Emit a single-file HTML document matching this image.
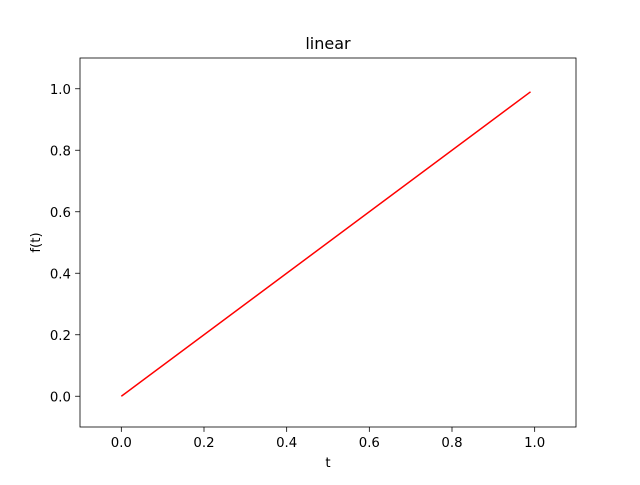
<!DOCTYPE html>
<html><head><meta charset="utf-8"><style>
body{margin:0;background:#fff;}
svg text{font-family:"DejaVu Sans","Liberation Sans",sans-serif;fill:#000;}
</style></head><body>
<svg id="chart" width="640" height="480" viewBox="0 0 640 480">
<rect width="640" height="480" fill="#fff"/>
<g id="plot"></g>
</svg>
<script>
const tValues = [0, 0.99];
const fValues = [0, 0.99];
const xTicks = [0.0, 0.2, 0.4, 0.6, 0.8, 1.0];
const yTicks = [0.0, 0.2, 0.4, 0.6, 0.8, 1.0];
const xTickLabels = ["0.0","0.2","0.4","0.6","0.8","1.0"];
const yTickLabels = ["0.0","0.2","0.4","0.6","0.8","1.0"];

const L=80,R=576,T=58,B=427,xmin=-0.1,xmax=1.1,ymin=-0.1,ymax=1.1;
const sx=v=>L+(v-xmin)/(xmax-xmin)*(R-L);
const sy=v=>B-(v-ymin)/(ymax-ymin)*(B-T);
const g=document.getElementById('plot');
const NS='http://www.w3.org/2000/svg';
function mk(tag,attrs,parent){const e=document.createElementNS(NS,tag);for(const k in attrs)e.setAttribute(k,attrs[k]);(parent||g).appendChild(e);return e;}

const pts=tValues.map((t,i)=>sx(t)+','+sy(fValues[i])).join(' ');
const line=mk('polyline',{points:pts,fill:'none',stroke:'#ff0000','stroke-width':1.5});



const frame=mk('rect',{x:L,y:T,width:R-L,height:B-T,fill:'none',stroke:'#000','stroke-width':0.8});



xTicks.forEach((v,i)=>{
  const x=sx(v);
  const tk=mk('line',{x1:x,x2:x,y1:B,y2:B+4.9,stroke:'#000','stroke-width':0.8});
  
  
  const tx=mk('text',{x:x,y:B+20,'text-anchor':'middle','font-size':'13.3px'});
  tx.textContent=xTickLabels[i];
  
  
});
yTicks.forEach((v,i)=>{
  const y=sy(v);
  const tk=mk('line',{x1:L-4.9,x2:L,y1:y,y2:y,stroke:'#000','stroke-width':0.8});
  
  
  const tx=mk('text',{x:L-9,y:y+5,'text-anchor':'end','font-size':'13.3px'});
  tx.textContent=yTickLabels[i];
  
  
});
const title=mk('text',{x:(L+R)/2,y:T-9,'text-anchor':'middle','font-size':'16px'});
title.textContent='linear';


const xl=mk('text',{x:(L+R)/2,y:467,'text-anchor':'middle','font-size':'13.3px'});
xl.textContent='t';


const yl=mk('text',{x:0,y:0,'text-anchor':'middle','font-size':'13.3px',transform:'translate(40,'+((T+B)/2)+') rotate(-90)'});
yl.textContent='f(t)';


</script>
</body></html>
